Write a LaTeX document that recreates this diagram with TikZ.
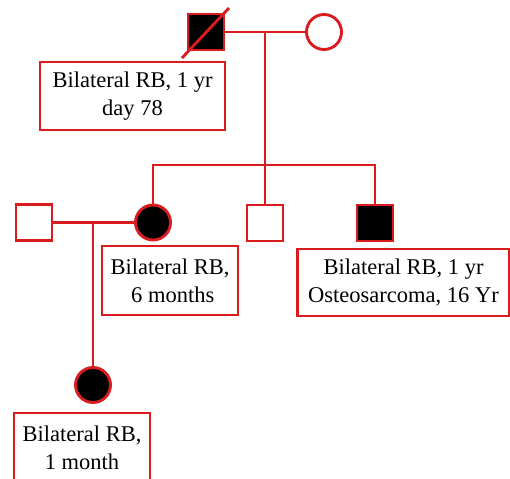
\documentclass[tikz,border=0pt]{standalone}
\usepackage{fontspec}
\setmainfont{Liberation Serif}
\definecolor{pedred}{RGB}{218,28,32}

\begin{document}
\begin{tikzpicture}[x=1pt, y=-1pt, line width=2.9pt,
  male/.style={draw=pedred, rectangle, minimum size=36pt, inner sep=0pt},
  female/.style={draw=pedred, circle, minimum size=35pt, inner sep=0pt},
  affected/.style={fill=black},
  note/.style={draw=pedred, rectangle, align=center, inner sep=0pt,
    font=\fontsize{22.5}{28}\selectfont},
  link/.style={draw=pedred}]
\useasboundingbox (0,0) rectangle (510,478);
% generation I
\node[male, affected] (gf) at (206,32) {};
\node[female, fill=white] (gm) at (324,32) {};
\draw[link] ([shift={(-24,26)}]gf.center) -- ([shift={(23,-24)}]gf.center);
\node[note, minimum width=185pt, minimum height=68pt] (n1) at (132.5,96)
  {Bilateral RB, 1 yr\\day 78};
\coordinate (m1) at (265,32);
\coordinate (s1) at (265,165);
\draw[link] (gf.east) -- (gm.west);
\draw[link] (m1) -- (s1);
% generation II
\node[male, fill=white] (sp) at (34,222.5) {};
\node[female, affected] (d1) at (153,222.5) {};
\node[male, fill=white] (b1) at (265,223) {};
\node[male, affected] (b2) at (375,223) {};
\draw[link] (d1.north) |- (s1) -| (b2.north);
\draw[link] (s1) -- (b1.north);
\node[note, minimum width=136pt, minimum height=69pt] (n2) at (170,280.5)
  {Bilateral RB,\\ \ 6 months};
\node[note, minimum width=212pt, minimum height=67pt] (n3) at (403.5,282.5)
  {Bilateral RB, 1 yr\\Osteosarcoma, 16 Yr};
\coordinate (m2) at (93,222.5);
\draw[link] (sp.east) -- (d1.west);
% generation III
\node[female, affected] (gc) at (93,385) {};
\draw[link] (m2) -- (gc.north);
\node[note, minimum width=136pt, minimum height=69pt] (n4) at (82,447.5)
  {Bilateral RB,\\1 month};
\end{tikzpicture}
\end{document}
